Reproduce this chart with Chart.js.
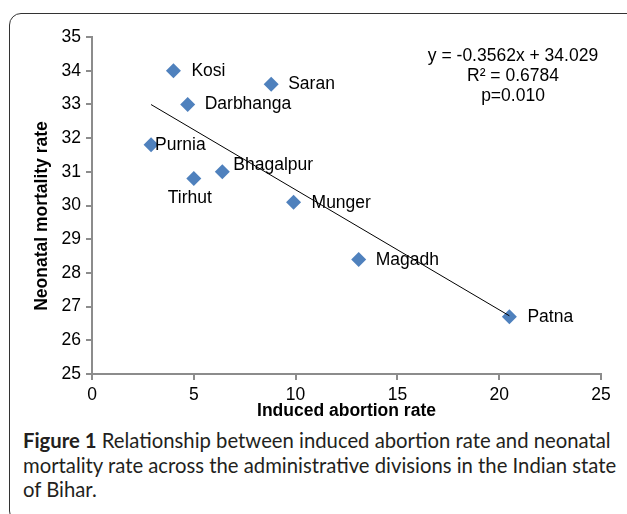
<!DOCTYPE html>
<html>
<head>
<meta charset="utf-8">
<script src="https://cdn.jsdelivr.net/npm/chart.js@4/dist/chart.umd.min.js"></script>
<style>
  body { margin: 0; background: #fff; width: 627px; height: 514px; overflow: hidden; position: relative; }
  #frame { position: absolute; left: 9px; top: 13px; width: 640px; height: 510px;
           border: 1.5px solid #333; border-radius: 12px; box-sizing: border-box; }
  #chart { position: absolute; left: 0; top: 0; }
  #caption { position: absolute; left: 23px; top: 428px; font-family: Lato, "Open Sans", sans-serif;
             font-size: 20.3px; line-height: 24.5px; color: #231f20; white-space: nowrap; }
</style>
</head>
<body>
<div id="frame"></div>
<canvas id="chart" width="627" height="425"></canvas>
<div id="caption"><b>Figure 1</b> Relationship between induced abortion rate and neonatal<br>mortality rate across the administrative divisions in the Indian state<br>of Bihar.</div>
<script>
// divisions of Bihar
var divisions = ['Kosi', 'Saran', 'Darbhanga', 'Purnia', 'Bhagalpur', 'Tirhut', 'Munger', 'Magadh', 'Patna'];
var abortionRate = [4.0, 8.8, 4.7, 2.9, 6.4, 5.0, 9.9, 13.1, 20.5];
var neonatalRate = [34.0, 33.6, 33.0, 31.8, 31.0, 30.8, 30.1, 28.4, 26.7];
var xTicks = [0, 5, 10, 15, 20, 25];
var yTicks = [25, 26, 27, 28, 29, 30, 31, 32, 33, 34, 35];
// fit reported on the chart
var slope = -0.3562;
var intercept = 34.029;
var fitText = ['y = -0.3562x + 34.029', 'R\u00b2 = 0.6784', 'p=0.010'];

var points = [];
for (var i = 0; i < divisions.length; i++) {
    points.push({ x: abortionRate[i], y: neonatalRate[i] });
}
var xMin = Math.min.apply(null, abortionRate);
var xMax = Math.max.apply(null, abortionRate);
var trend = [{ x: xMin, y: slope * xMin + intercept }, { x: xMax, y: slope * xMax + intercept }];

var FONT = 'Liberation Sans, Arial, sans-serif';

// where each name sits relative to its marker
var labelOffsets = {
    'Kosi': [18, 0, 'left'], 'Saran': [17, 0, 'left'], 'Darbhanga': [17, 0, 'left'],
    'Purnia': [4, 0, 'left'], 'Bhagalpur': [11, -7, 'left'], 'Tirhut': [-4, 20, 'center'],
    'Munger': [18, 1, 'left'], 'Magadh': [17, 1, 'left'], 'Patna': [18, 0, 'left']
};

var textPlugin = {
    id: 'textPlugin',
    afterDatasetsDraw: function (chart) {
        var ctx = chart.ctx;
        var area = chart.chartArea;
        ctx.save();
        ctx.fillStyle = '#000';
        ctx.textBaseline = 'middle';
        ctx.font = '17.5px ' + FONT;
        var meta = chart.getDatasetMeta(0);
        meta.data.forEach(function (pt, i) {
            var o = labelOffsets[divisions[i]];
            ctx.textAlign = o[2];
            ctx.fillText(divisions[i], pt.x + o[0], pt.y + o[1]);
        });
        // regression text
        ctx.textAlign = 'center';
        for (var k = 0; k < fitText.length; k++) {
            ctx.fillText(fitText[k], area.right - 88, area.top + 19 + k * 20);
        }
        // axis titles
        ctx.font = 'bold 17.5px ' + FONT;
        ctx.fillText('Induced abortion rate', (area.left + area.right) / 2, 411);
        ctx.translate(42, 216);
        ctx.rotate(-Math.PI / 2);
        ctx.fillText('Neonatal mortality rate', 0, 0);
        ctx.restore();
    }
};

new Chart(document.getElementById('chart'), {
    type: 'scatter',
    data: {
        datasets: [{
            data: points,
            pointStyle: 'rectRot',
            pointRadius: 7.5,
            pointBackgroundColor: '#4f81bd',
            pointBorderColor: '#4f81bd',
            pointBorderWidth: 0,
            order: 1
        }, {
            type: 'line',
            data: trend,
            borderColor: '#000',
            borderWidth: 1,
            pointRadius: 0,
            fill: false,
            order: 0
        }]
    },
    options: {
        responsive: false,
        animation: false,
        devicePixelRatio: 1,
        layout: { padding: { top: 37, right: 26, left: 0, bottom: 1 } },
        plugins: { legend: { display: false }, tooltip: { enabled: false } },
        scales: {
            x: {
                type: 'linear', min: 0, max: 25,
                afterBuildTicks: function (s) { s.ticks = xTicks.map(function (v) { return { value: v }; }); },
                afterFit: function (s) { s.height = 50; },
                grid: { drawOnChartArea: false, drawTicks: true, tickLength: 6, color: '#8c8c8c', lineWidth: 2 },
                border: { display: true, color: '#8c8c8c', width: 2 },
                ticks: { color: '#000', font: { family: FONT, size: 17.5 }, padding: 5, maxRotation: 0 }
            },
            y: {
                type: 'linear', min: 25, max: 35,
                afterBuildTicks: function (s) { s.ticks = yTicks.map(function (v) { return { value: v }; }); },
                afterFit: function (s) { s.width = 92; },
                grid: { drawOnChartArea: false, drawTicks: true, tickLength: 6, color: '#8c8c8c', lineWidth: 2 },
                border: { display: true, color: '#8c8c8c', width: 2 },
                ticks: { color: '#000', font: { family: FONT, size: 17.5 }, padding: 5 }
            }
        }
    },
    plugins: [textPlugin]
});
</script>
</body>
</html>
